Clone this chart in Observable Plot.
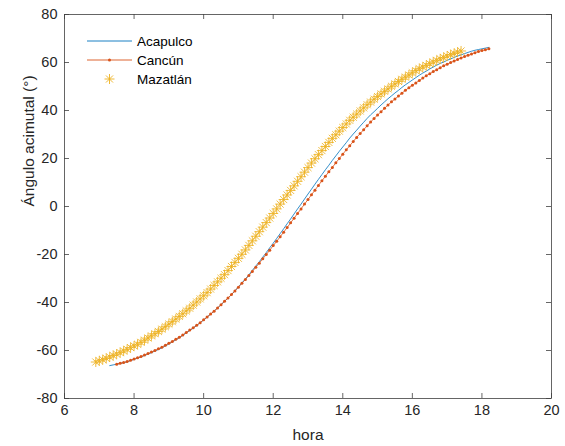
<!DOCTYPE html>
<html>
<head>
<meta charset="utf-8">
<script src="https://cdn.jsdelivr.net/npm/d3@7"></script>
<script src="https://cdn.jsdelivr.net/npm/@observablehq/plot@0.6"></script>
<style>
  html, body { margin: 0; padding: 0; background: #fff; }
  #wrap { position: relative; width: 565px; height: 446px; background: #fff; font-family: "Liberation Sans", Arial, sans-serif; }
  #legend { position: absolute; left: 0; top: 0; }
</style>
</head>
<body>
<div id="wrap"></div>
<script>
// ---- data (azimuth angle in degrees, sampled every 0.1 h) ----
const series = ["Acapulco", "Cancún", "Mazatlán"];
const colors = ["#0072BD", "#D95319", "#EDB120"];
const sampleStep = 0.1;          // hours between samples
const acapulcoStart = 7.3;       // first sample hour
const cancunStart = 7.5;
const mazatlanStart = 6.9;

const acapulco = [
  -66.3, -66.0, -65.7, -65.4, -65.1, -64.7, -64.2, -63.7, -63.2, -62.7,
  -62.1, -61.5, -60.9, -60.2, -59.6, -58.9, -58.1, -57.3, -56.4, -55.6,
  -54.7, -53.7, -52.7, -51.7, -50.7, -49.6, -48.4, -47.3, -46.1, -44.9,
  -43.6, -42.3, -40.9, -39.5, -38.2, -36.7, -35.1, -33.5, -31.8, -30.2,
  -28.5, -26.6, -24.8, -23.0, -21.1, -19.2, -17.2, -15.3, -13.3, -11.3,
  -9.3, -7.2, -5.2, -3.1, -1.0,
  1.0, 3.1, 5.2, 7.2, 9.3, 11.3, 13.3, 15.3, 17.2, 19.2,
  21.1, 23.0, 24.8, 26.6, 28.5, 30.2, 31.8, 33.5, 35.1, 36.7,
  38.2, 39.5, 40.9, 42.3, 43.6, 44.9, 46.1, 47.3, 48.4, 49.6,
  50.7, 51.7, 52.7, 53.7, 54.7, 55.6, 56.4, 57.3, 58.1, 58.9,
  59.6, 60.2, 60.9, 61.5, 62.1, 62.7, 63.2, 63.7, 64.2, 64.7,
  65.1, 65.4, 65.7, 66.0, 66.3
];

const cancun = [
  -65.7, -65.3, -65.0, -64.6, -64.1, -63.5, -63.0, -62.5, -61.9, -61.3,
  -60.6, -60.0, -59.3, -58.6, -57.8, -57.0, -56.2, -55.3, -54.5, -53.5,
  -52.5, -51.5, -50.5, -49.5, -48.4, -47.2, -46.0, -44.8, -43.6, -42.3,
  -40.9, -39.5, -38.1, -36.7, -35.2, -33.6, -32.0, -30.4, -28.8, -27.1,
  -25.3, -23.6, -21.8, -20.0, -18.2, -16.3, -14.5, -12.6, -10.7, -8.8,
  -6.8, -4.9, -2.9, -1.0,
  1.0, 2.9, 4.9, 6.8, 8.8, 10.7, 12.6, 14.5, 16.3, 18.2,
  20.0, 21.8, 23.6, 25.3, 27.1, 28.8, 30.4, 32.0, 33.6, 35.2,
  36.7, 38.1, 39.5, 40.9, 42.3, 43.6, 44.8, 46.0, 47.2, 48.4,
  49.5, 50.5, 51.5, 52.5, 53.5, 54.5, 55.3, 56.2, 57.0, 57.8,
  58.6, 59.3, 60.0, 60.6, 61.3, 61.9, 62.5, 63.0, 63.5, 64.1,
  64.6, 65.0, 65.3, 65.7
];

const mazatlan = [
  -64.8, -64.3, -63.8, -63.3, -62.7, -62.1, -61.5, -60.9, -60.2, -59.5,
  -58.8, -58.1, -57.4, -56.6, -55.7, -54.8, -53.9, -53.0, -52.1, -51.1,
  -50.1, -49.0, -48.0, -46.9, -45.8, -44.7, -43.5, -42.4, -41.1, -39.8,
  -38.5, -37.2, -35.9, -34.4, -32.9, -31.4, -29.9, -28.4, -26.7, -25.0,
  -23.3, -21.6, -19.9, -18.1, -16.2, -14.3, -12.4, -10.5, -8.6, -6.7,
  -4.8, -2.9, -1.0,
  1.0, 2.9, 4.8, 6.7, 8.6, 10.5, 12.4, 14.3, 16.2, 18.1,
  19.9, 21.6, 23.3, 25.0, 26.7, 28.4, 29.9, 31.4, 32.9, 34.4,
  35.9, 37.2, 38.5, 39.8, 41.1, 42.4, 43.5, 44.7, 45.8, 46.9,
  48.0, 49.0, 50.1, 51.1, 52.1, 53.0, 53.9, 54.8, 55.7, 56.6,
  57.4, 58.1, 58.8, 59.5, 60.2, 60.9, 61.5, 62.1, 62.7, 63.3,
  63.8, 64.3, 64.8
];

const xTicks = [6, 8, 10, 12, 14, 16, 18, 20];
const yTicks = [-80, -60, -40, -20, 0, 20, 40, 60, 80];
const xLabel = "hora";
const yLabel = "Ángulo acimutal (°)";

// ---- build tables ----
const toRows = (vals, start) => vals.map((v, i) => ({hora: start + i * sampleStep, ang: v}));
const acaRows = toRows(acapulco, acapulcoStart);
const canRows = toRows(cancun, cancunStart);
const mazRows = toRows(mazatlan, mazatlanStart);

// MATLAB-like '*' marker (plus + cross, 8 arms)
const star8 = {
  draw(ctx, size) {
    const r = Math.sqrt(size / Math.PI);
    const d = r * Math.SQRT1_2;
    ctx.moveTo(-r, 0); ctx.lineTo(r, 0);
    ctx.moveTo(0, -r); ctx.lineTo(0, r);
    ctx.moveTo(-d, -d); ctx.lineTo(d, d);
    ctx.moveTo(-d, d); ctx.lineTo(d, -d);
  }
};

const W = 565, H = 446;
const mL = 64, mR = 14, mT = 14, mB = 48;
const fw = W - mL - mR, fh = H - mT - mB;
const tickLen = 5;
const axisColor = "#262626";
const fnt = '"Liberation Sans", Arial, sans-serif';

const chart = Plot.plot({
  width: W, height: H,
  marginLeft: mL, marginRight: mR, marginTop: mT, marginBottom: mB,
  style: {fontFamily: fnt, fontSize: "14px", color: axisColor, background: "#fff", overflow: "visible"},
  x: {domain: [6, 20]},
  y: {domain: [-80, 80]},
  marks: [
    Plot.frame({stroke: "#404040", strokeWidth: 0.8}),
    // inward ticks on all four sides
    Plot.tickX(xTicks, {x: d => d, insetTop: fh - tickLen, stroke: "#404040", strokeWidth: 0.8}),
    Plot.tickX(xTicks, {x: d => d, insetBottom: fh - tickLen, stroke: "#404040", strokeWidth: 0.8}),
    Plot.tickY(yTicks, {y: d => d, insetRight: fw - tickLen, stroke: "#404040", strokeWidth: 0.8}),
    Plot.tickY(yTicks, {y: d => d, insetLeft: fw - tickLen, stroke: "#404040", strokeWidth: 0.8}),
    Plot.axisX(xTicks, {tickSize: 0, tickPadding: 6, tickFormat: d => String(d), label: null, fontSize: 14.5}),
    Plot.axisY(yTicks, {tickSize: 0, tickPadding: 7, tickFormat: d => String(d), label: null, fontSize: 14.5}),
    Plot.text([xLabel], {text: d => d, frameAnchor: "bottom", dy: 41, fontSize: 15.5, fill: axisColor}),
    Plot.text([yLabel], {text: d => d, frameAnchor: "left", dx: -35, rotate: -90, fontSize: 15.5, fill: axisColor}),
    // series
    Plot.line(acaRows, {x: "hora", y: "ang", stroke: colors[0], strokeWidth: 0.8}),
    Plot.line(canRows, {x: "hora", y: "ang", stroke: colors[1], strokeWidth: 0.8}),
    Plot.dot(canRows, {x: "hora", y: "ang", r: 1.5, fill: colors[1], stroke: "none"}),
    Plot.dot(mazRows, {x: "hora", y: "ang", r: 5, symbol: star8, fill: "none", stroke: colors[2], strokeWidth: 0.85})
  ]
});

const wrap = document.getElementById("wrap");
wrap.appendChild(chart);

// ---- legend (MATLAB style, no box) ----
const ns = "http://www.w3.org/2000/svg";
const leg = document.createElementNS(ns, "svg");
leg.setAttribute("id", "legend");
leg.setAttribute("width", 220);
leg.setAttribute("height", 100);
const rowsY = [41, 60, 79];
const lx1 = 87, lx2 = 132, tx = 137, cx = (lx1 + lx2) / 2;
series.forEach((name, i) => {
  const y = rowsY[i];
  if (i < 2) {
    const ln = document.createElementNS(ns, "line");
    ln.setAttribute("x1", lx1); ln.setAttribute("x2", lx2);
    ln.setAttribute("y1", y); ln.setAttribute("y2", y);
    ln.setAttribute("stroke", colors[i]); ln.setAttribute("stroke-width", 0.9);
    leg.appendChild(ln);
  }
  if (i === 1) {
    const c = document.createElementNS(ns, "circle");
    c.setAttribute("cx", cx); c.setAttribute("cy", y); c.setAttribute("r", 1.5);
    c.setAttribute("fill", colors[1]);
    leg.appendChild(c);
  }
  if (i === 2) {
    const p = d3.path();
    star8.draw(p, 25 * Math.PI);
    const s = document.createElementNS(ns, "path");
    s.setAttribute("d", p.toString());
    s.setAttribute("transform", `translate(${cx},${y})`);
    s.setAttribute("stroke", colors[2]); s.setAttribute("stroke-width", 0.9); s.setAttribute("fill", "none");
    leg.appendChild(s);
  }
  const t = document.createElementNS(ns, "text");
  t.setAttribute("x", tx); t.setAttribute("y", y);
  t.setAttribute("dy", "0.35em");
  t.setAttribute("font-family", fnt);
  t.setAttribute("font-size", "13.5px");
  t.setAttribute("fill", "#000");
  t.textContent = name;
  leg.appendChild(t);
});
wrap.appendChild(leg);
</script>
</body>
</html>
